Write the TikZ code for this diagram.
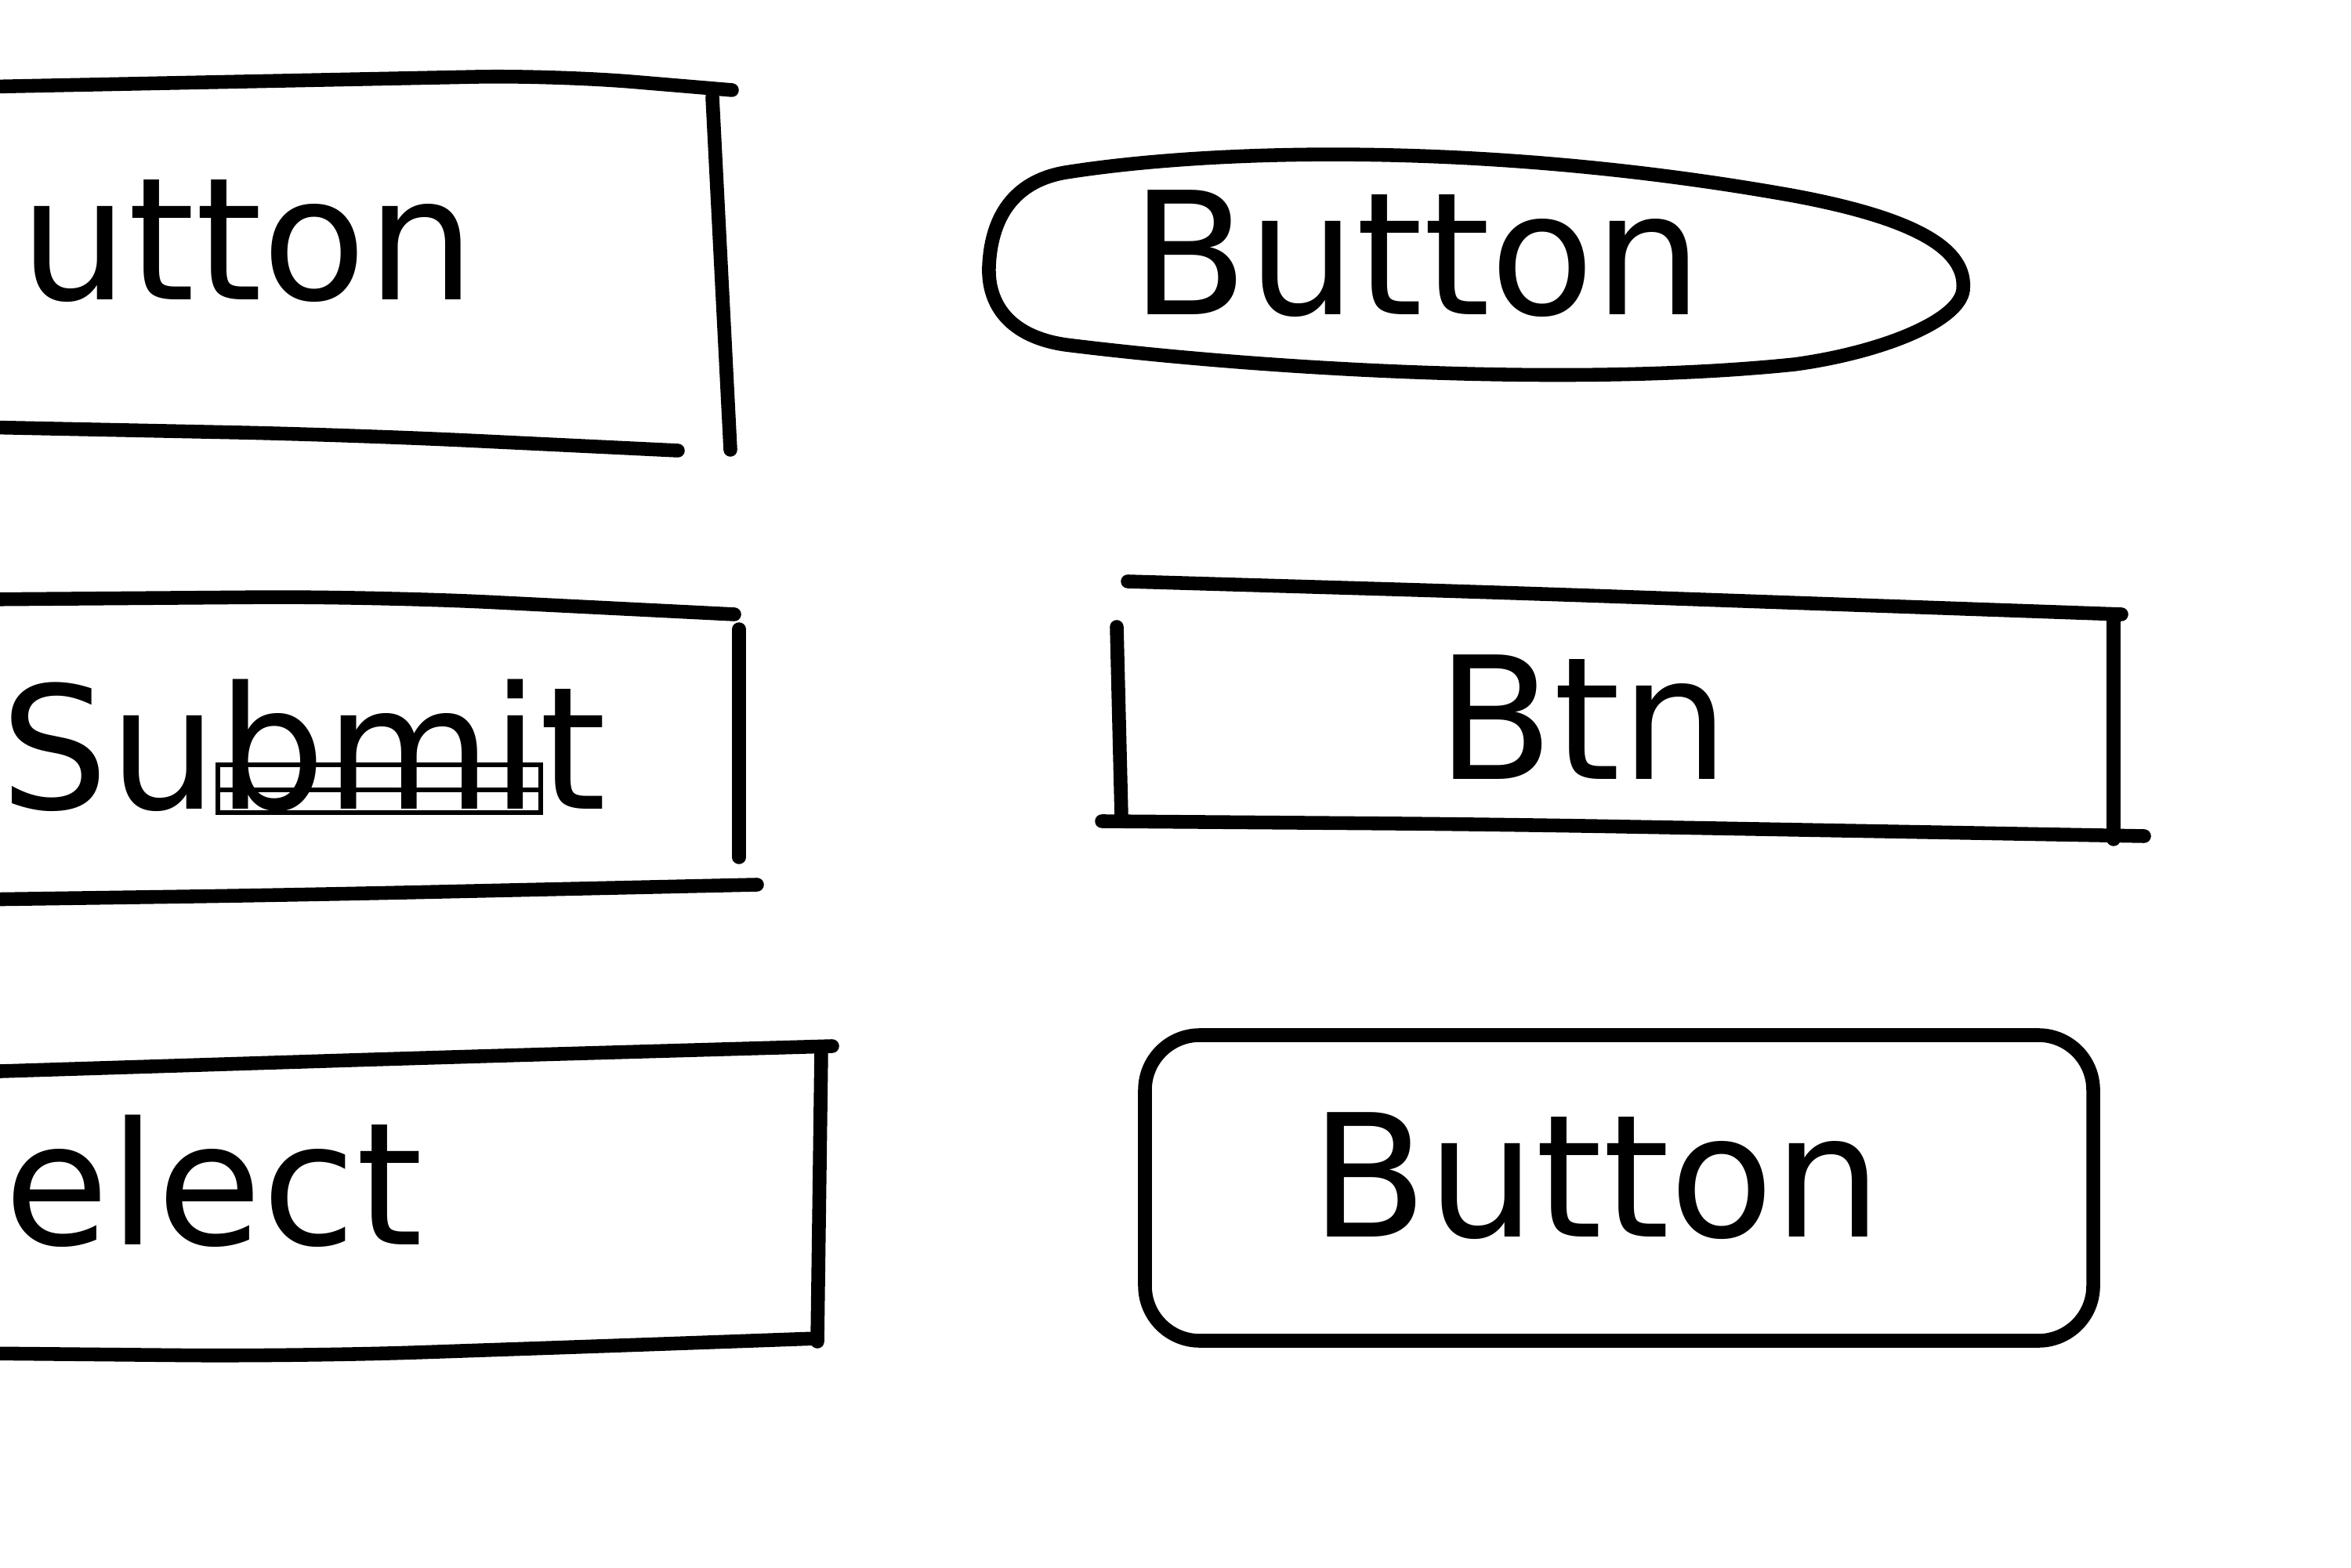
\documentclass[tikz,border=0pt]{standalone}
\usepackage{fontspec}
\setmainfont{DejaVu Sans}
\usetikzlibrary{positioning}
\begin{document}
\begin{tikzpicture}[
  pen/.style={line width=5pt, line cap=round, line join=round},
  hand/.style={font=\fontsize{62}{70}\selectfont, inner sep=0pt}
]
\useasboundingbox (0,0) rectangle (30,20);

% Kasten oben links
\draw[pen, rounded corners=1cm] (-0.3,18.89) -- (7.08,19.04) -- (9.34,18.85);
\draw[pen] (9.09,18.76) -- (9.32,14.26);
\draw[pen, rounded corners=1.5cm] (-0.3,14.55) -- (4.5,14.45) -- (8.65,14.25);
\node[hand, anchor=base west] (utton) at (0.25,16.17) {utton};

% Pille
\draw[pen] (13.6,17.8) .. controls (15.5,18.1) and (19,18.2) .. (22.9,17.5)
  .. controls (24.5,17.2) and (25.1,16.8) .. (25.05,16.3)
  .. controls (25.0,15.9) and (24.0,15.5) .. (22.9,15.35)
  .. controls (20,15.05) and (16,15.3) .. (13.6,15.6)
  .. controls (12.9,15.7) and (12.6,16.1) .. (12.62,16.6)
  .. controls (12.65,17.3) and (13.0,17.7) .. (13.6,17.8);
\node[hand, anchor=base] (pilltext) at (18.08,15.98) {Button};

% Kasten Mitte links
\draw[pen, rounded corners=1.5cm] (-0.3,12.35) -- (4.78,12.39) -- (9.37,12.16);
\draw[pen] (9.43,11.97) -- (9.43,9.06);
\draw[pen, rounded corners=1.5cm] (-0.3,8.52) -- (3.83,8.58) -- (9.66,8.71);
\node[hand, anchor=base west] (submit) at (0.0,9.67) {Submit};
\draw[line width=1.8pt] ([xshift=2.78cm,yshift=-0.04cm]submit.base west)
  rectangle ([xshift=6.90cm,yshift=0.57cm]submit.base west);
\draw[line width=1.8pt] ([xshift=2.78cm,yshift=0.25cm]submit.base west)
  -- ([xshift=6.90cm,yshift=0.25cm]submit.base west);

% Kasten Mitte rechts
\draw[pen, rounded corners=1.5cm] (14.39,12.58) -- (19.13,12.44) -- (27.07,12.16);
\draw[pen] (14.25,12.0) -- (14.31,9.57);
\draw[pen] (26.97,12.16) -- (26.97,9.29);
\draw[pen, rounded corners=1.5cm] (14.06,9.52) -- (19.13,9.48) -- (27.36,9.33);
\node[hand, anchor=base] (btn) at (20.2,10.05) {Btn};

% Kasten unten links
\draw[pen, rounded corners=1.5cm] (-0.3,6.32) -- (5.74,6.51) -- (10.62,6.65);
\draw[pen] (10.48,6.6) -- (10.43,2.88);
\draw[pen, rounded corners=1.5cm] (-0.3,2.73) -- (3.83,2.69) -- (7.65,2.82) -- (10.43,2.92);
\node[hand, anchor=base west] (elect) at (0.05,4.12) {elect};

% runder Kasten unten rechts
\node[pen, draw, rounded corners=0.7cm, minimum width=12.1cm,
  minimum height=3.9cm] (roundbox) at (20.66,4.84) {};
\node[hand, anchor=base] (roundtext) at (20.37,4.22) {Button};
\end{tikzpicture}
\end{document}
